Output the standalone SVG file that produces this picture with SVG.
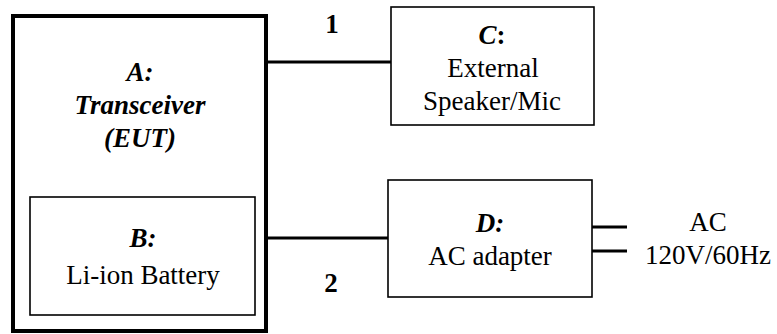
<svg xmlns="http://www.w3.org/2000/svg" width="777" height="334" viewBox="0 0 777 334">
<style>
.thick{fill:none;stroke:#000;stroke-width:4}
.thin{fill:none;stroke:#000;stroke-width:1.6}
.wire{stroke:#000;stroke-width:3;fill:none}
</style>
<rect width="777" height="334" fill="#fff"/>
<g font-family="Liberation Serif, Times New Roman, serif" font-size="27" text-anchor="middle" fill="#000">
<g id="connectors">
<line class="wire" x1="266" y1="62" x2="391" y2="62"/>
<line class="wire" x1="266" y1="238" x2="388" y2="238"/>
<line class="wire" x1="592" y1="227" x2="627" y2="227"/>
<line class="wire" x1="592" y1="251" x2="627" y2="251"/>
<text font-weight="bold" x="332" y="33">1</text>
<text font-weight="bold" x="331" y="292">2</text>
</g>
<g id="nodeA">
<rect class="thick" x="13" y="16" width="253" height="315"/>
<text font-weight="bold" font-style="italic" x="140" y="81">A:</text>
<text font-weight="bold" font-style="italic" x="140" y="114">Transceiver</text>
<text font-weight="bold" font-style="italic" x="140" y="147">(EUT)</text>
</g>
<g id="nodeB">
<rect class="thin" x="30" y="197" width="225" height="118"/>
<text font-weight="bold" font-style="italic" x="143" y="247">B:</text>
<text x="143" y="284">Li-ion Battery</text>
</g>
<g id="nodeC">
<rect class="thin" x="391" y="7" width="203" height="118"/>
<text x="492" y="44"><tspan font-weight="bold" font-style="italic">C</tspan><tspan font-weight="bold">:</tspan></text>
<text x="493" y="77">External</text>
<text x="492" y="110">Speaker/Mic</text>
</g>
<g id="nodeD">
<rect class="thin" x="388" y="180" width="204" height="117"/>
<text font-weight="bold" font-style="italic" x="490" y="232">D:</text>
<text x="490" y="265">AC adapter</text>
</g>
<g id="ac">
<text x="708" y="231">AC</text>
<text x="708" y="264">120V/60Hz</text>
</g>
</g>
</svg>
